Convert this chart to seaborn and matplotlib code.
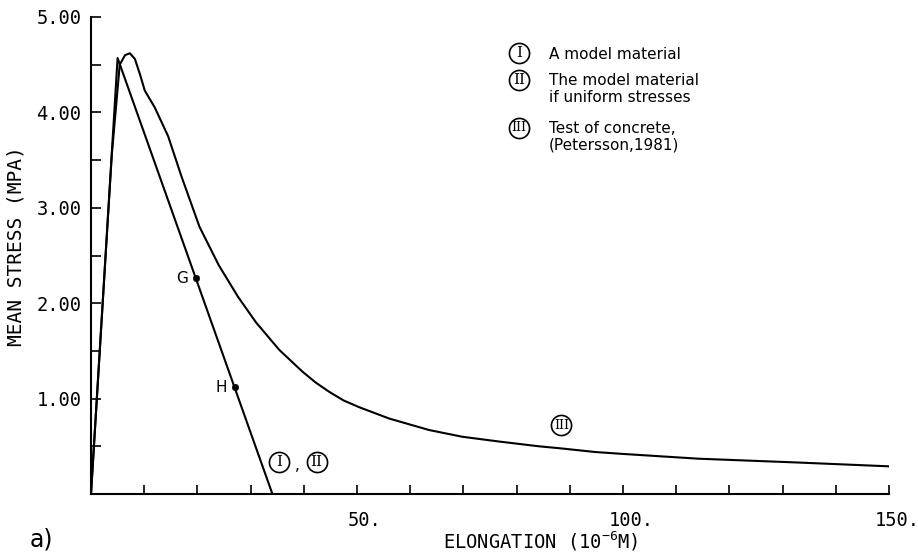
import numpy as np
import pandas as pd
import matplotlib
matplotlib.use("Agg")
import matplotlib.pyplot as plt
import matplotlib.transforms as mtransforms
from matplotlib.ticker import FixedLocator
import seaborn as sns

# ---- data ----
# curve I / II : model material (linear softening)
model_x = [0.0, 5.0, 34.1]
model_y = [0.0, 4.57, 0.0]

# curve III : test of concrete (Petersson, 1981)
test_x = [0.0, 3.9, 5.4, 6.4, 7.3, 8.25, 9.2, 10.1, 12.0, 14.5, 17.0, 20.4, 24.0,
          27.6, 31.0, 35.4, 39.8, 42.2, 44.8, 47.5, 50.4, 56.1, 63.6, 69.8, 76.7,
          84.2, 88.0, 94.8, 100.0, 114.2, 132.9, 150.0]
test_y = [0.0, 3.55, 4.50, 4.60, 4.62, 4.56, 4.40, 4.23, 4.05, 3.75, 3.33, 2.80, 2.40,
          2.07, 1.80, 1.51, 1.28, 1.17, 1.07, 0.98, 0.91, 0.79, 0.67, 0.60, 0.55,
          0.50, 0.48, 0.44, 0.42, 0.37, 0.33, 0.29]

# marked points on the model curve
pt_names = ["G", "H"]
pt_x = [19.7, 27.0]
pt_y = [2.26, 1.12]

# legend entries
legend_txt = ["A model material",
              "The model material\nif uniform stresses",
              "Test of concrete,\n(Petersson,1981)"]
legend_y = [4.62, 4.34, 3.84]

# circled numerals (legend + curve labels)
circ_x = [80.4, 80.4, 80.4, 35.3, 42.4, 88.4]
circ_y = [4.62, 4.34, 3.84, 0.34, 0.34, 0.72]
circ_num = ["I", "II", "III", "I", "II", "III"]

x_major = [50, 100, 150]
x_labels = ["50.", "100.", "150."]
y_major = [1, 2, 3, 4, 5]
y_labels = ["1.00", "2.00", "3.00", "4.00", "5.00"]

sns.set_style("ticks")
plt.rcParams["font.family"] = ["DejaVu Sans Mono"]
plt.rcParams["mathtext.default"] = "regular"
plt.rcParams["text.color"] = "black"

fig = plt.figure(figsize=(9.18, 5.54), dpi=100)
ax = fig.add_axes([91 / 918, 60 / 554, 798 / 918, 477 / 554])

df_model = pd.DataFrame({"x": model_x, "y": model_y})
df_test = pd.DataFrame({"x": test_x, "y": test_y})
sns.lineplot(data=df_model, x="x", y="y", sort=False, color="black", lw=1.5, ax=ax)
sns.lineplot(data=df_test, x="x", y="y", sort=False, color="black", lw=1.5, ax=ax)
sns.scatterplot(x=pt_x, y=pt_y, color="black", s=22, edgecolor="black", ax=ax, zorder=5)

for name, px, py in zip(pt_names, pt_x, pt_y):
    ax.text(px - 1.4, py, name, ha="right", va="center", fontsize=11,
            family="DejaVu Sans", color="black")

ax.set_xlim(0, 150)
ax.set_ylim(0, 5)
sns.despine(ax=ax)
for s in ["left", "bottom"]:
    ax.spines[s].set_linewidth(1.5)
    ax.spines[s].set_color("black")

ax.xaxis.set_major_locator(FixedLocator(x_major))
ax.set_xticklabels(x_labels)
ax.xaxis.set_minor_locator(FixedLocator([v for v in range(10, 150, 10) if v not in x_major]))
ax.yaxis.set_major_locator(FixedLocator(y_major))
ax.set_yticklabels(y_labels)
ax.yaxis.set_minor_locator(FixedLocator([0.5, 1.5, 2.5, 3.5, 4.5]))
ax.tick_params(axis="x", which="both", direction="in", length=6.5, width=1.2,
               color="black", labelsize=13.5, pad=12, labelcolor="black")
ax.tick_params(axis="y", which="both", direction="in", length=7, width=1.2,
               color="black", labelsize=13.5, pad=7, labelcolor="black")
offset = mtransforms.ScaledTranslation(8 / 100, 0, fig.dpi_scale_trans)
for lab in ax.get_xticklabels():
    lab.set_transform(lab.get_transform() + offset)

ax.set_ylabel("MEAN STRESS (MPA)", fontsize=14, color="black")
ax.yaxis.set_label_coords(-0.082, 0.52)
ax.set_xlabel("ELONGATION (10$^{-6}$M)", fontsize=13.5, color="black")
ax.xaxis.set_label_coords(0.564, -0.074)

fig.text(30 / 918, 1 - 540 / 554, "a)", fontsize=17, family="DejaVu Sans", va="center")

sns.scatterplot(x=circ_x, y=circ_y, marker="o", s=210, facecolor="white",
                edgecolor="black", linewidth=1.2, ax=ax, zorder=6)
for cx, cy, n in zip(circ_x, circ_y, circ_num):
    ax.text(cx, cy, n, ha="center", va="center", family="DejaVu Serif",
            fontsize=11 if n != "III" else 9, zorder=7, color="black")
ax.text(38.85, 0.30, ",", ha="center", va="center", fontsize=11,
        family="DejaVu Sans", color="black")

for ty, t in zip(legend_y, legend_txt):
    ax.text(86.0, ty + 0.07, t, ha="left", va="top", fontsize=11,
            family="DejaVu Sans", linespacing=1.15, color="black")

fig.savefig("out.png", dpi=100)
